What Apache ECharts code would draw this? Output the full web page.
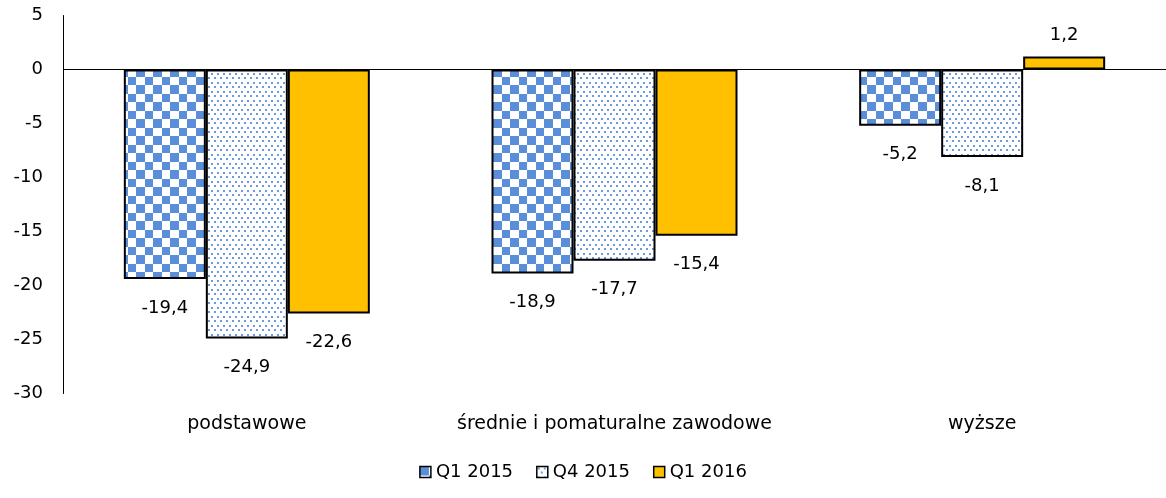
<!DOCTYPE html>
<html lang="pl">

<head>
    <meta charset="UTF-8">
    <script src="https://cdn.jsdelivr.net/npm/echarts@6/dist/echarts.min.js"></script>
    <title>Wykres</title>
    <style>
        html, body { margin: 0; padding: 0; background: #fff; }
    </style>
</head>

<body>
    <div id="main" style="width: 1166px;height:498px;"></div>

    <script type="text/javascript">
        // dane
        var categories = ['podstawowe', 'średnie i pomaturalne zawodowe', 'wyższe'];
        var seriesNames = ['Q1 2015', 'Q4 2015', 'Q1 2016'];
        var q1_2015 = [-19.4, -18.9, -5.2];
        var q4_2015 = [-24.9, -17.7, -8.1];
        var q1_2016 = [-22.6, -15.4, 1.2];
        var yTicks = [5, 0, -5, -10, -15, -20, -25, -30];

        var FONT = 'DejaVu Sans';
        var BLUE = '#5a8ed8';

        // wzór szachownicy
        function checkerPattern() {
            var c = document.createElement('canvas');
            c.width = 17; c.height = 17;
            var ctx = c.getContext('2d');
            ctx.fillStyle = '#fff';
            ctx.fillRect(0, 0, 17, 17);
            ctx.fillStyle = BLUE;
            ctx.fillRect(0, 0, 9, 9);
            ctx.fillRect(9, 9, 8, 8);
            return c;
        }

        // wzór kropek
        function dotPattern() {
            var c = document.createElement('canvas');
            c.width = 6; c.height = 9;
            var ctx = c.getContext('2d');
            ctx.fillStyle = '#fff';
            ctx.fillRect(0, 0, 6, 9);
            ctx.fillStyle = '#6b9ade';
            ctx.fillRect(1, 1, 2, 2);
            ctx.fillRect(4, 5, 2, 2);
            return c;
        }

        function fmt(v) {
            return v.toFixed(1).replace('.', ',');
        }

        function withLabels(arr) {
            return arr.map(function (v) {
                return {
                    value: v,
                    label: {
                        position: v < 0 ? 'bottom' : 'top',
                        distance: v < 0 ? 20 : 12
                    }
                };
            });
        }

        var labelStyle = {
            show: true,
            fontFamily: FONT,
            fontSize: 18,
            color: '#000',
            formatter: function (p) { return fmt(p.value); }
        };

        function makeSeries(name, data, color) {
            return {
                name: name,
                type: 'bar',
                barWidth: 82,
                barGap: '0%',
                data: withLabels(data),
                itemStyle: {
                    color: color,
                    borderColor: '#000',
                    borderWidth: 2
                },
                label: labelStyle
            };
        }

        var myChart = echarts.init(document.getElementById('main'));

        var s1 = makeSeries(seriesNames[0], q1_2015, { image: checkerPattern(), repeat: 'repeat' });
        s1.markLine = {
            silent: true,
            symbol: 'none',
            label: { show: false },
            lineStyle: { color: '#000', width: 1, type: 'solid' },
            data: [{ yAxis: 0 }]
        };
        var s2 = makeSeries(seriesNames[1], q4_2015, { image: dotPattern(), repeat: 'repeat' });
        var s3 = makeSeries(seriesNames[2], q1_2016, '#ffc000');

        var option = {
            animation: false,
            textStyle: { fontFamily: FONT },
            grid: {
                left: 63,
                top: 15.5,
                width: 1106,
                height: 378
            },
            legend: {
                data: seriesNames,
                bottom: 12,
                left: 'center',
                icon: 'rect',
                itemWidth: 11,
                itemHeight: 11,
                itemGap: 23,
                textStyle: { fontFamily: FONT, fontSize: 18, color: '#000' },
                itemStyle: { borderColor: '#000', borderWidth: 1.5 }
            },
            xAxis: {
                type: 'category',
                data: categories,
                position: 'bottom',
                axisLine: { show: false, onZero: false },
                axisTick: { show: false },
                axisLabel: {
                    interval: 0,
                    margin: 21,
                    fontFamily: FONT,
                    fontSize: 19,
                    color: '#000'
                }
            },
            yAxis: {
                type: 'value',
                min: yTicks[yTicks.length - 1],
                max: yTicks[0],
                interval: 5,
                axisLine: { show: true, lineStyle: { color: '#000', width: 1 } },
                axisTick: { show: false },
                splitLine: { show: false },
                axisLabel: {
                    margin: 20,
                    fontFamily: FONT,
                    fontSize: 18,
                    color: '#000'
                }
            },
            series: [s1, s2, s3]
        };

        myChart.setOption(option);
    </script>

</body>

</html>
